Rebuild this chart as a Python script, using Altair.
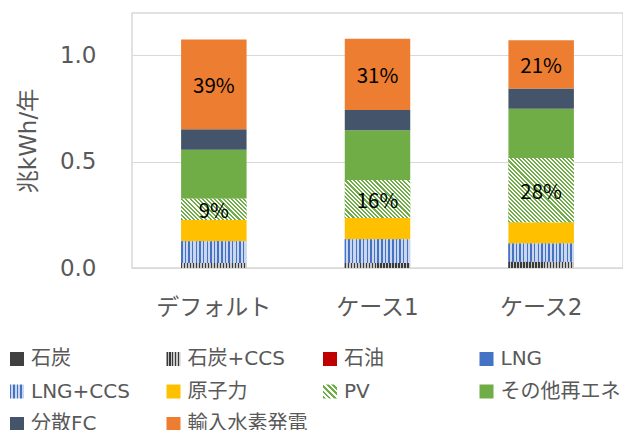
import math
import altair as alt
import pandas as pd

# ---------------- data ----------------
cases = ["デフォルト", "ケース1", "ケース2"]
series = ["石炭", "石炭+CCS", "石油", "LNG", "LNG+CCS", "原子力", "PV",
          "その他再エネ", "分散FC", "輸入水素発電"]
coal = [0.0, 0.0, 0.0]
coal_ccs = [0.023, 0.023, 0.029]
oil = [0.0, 0.0, 0.0]
lng = [0.0, 0.0, 0.0]
lng_ccs = [0.103, 0.112, 0.086]
nuclear = [0.100, 0.100, 0.100]
pv = [0.100, 0.179, 0.303]
other_re = [0.231, 0.234, 0.232]
dist_fc = [0.096, 0.096, 0.095]
h2_import = [0.422, 0.335, 0.227]
pv_labels = ["9%", "16%", "28%"]
h2_labels = ["39%", "31%", "21%"]
y_ticks = [0.0, 0.5, 1.0]

values_by_series = [coal, coal_ccs, oil, lng, lng_ccs, nuclear, pv,
                    other_re, dist_fc, h2_import]

# ---------------- styles ----------------
FONT = "DejaVu Sans, Noto Sans CJK JP"
LABEL_FONT = "Noto Sans CJK JP"
GREY_TXT = "#595959"
GRID = "#d9d9d9"
colors = ["#404040", "#808080", "#c00000", "#4472c4", "#8faadc",
          "#ffc000", "#c5e0b4", "#70ad47", "#44546a", "#ed7d31"]

PLOT_W, PLOT_H = 491, 255
Y_MAX = 1.2
BAR_W = PLOT_W / 3 * 0.4
PX_PER_UNIT = PLOT_H / Y_MAX
PV_PERIOD = 2.9


def stripe_stops(n, frac, c1, c2):
    stops = []
    for i in range(n):
        a, b, c = i / n, (i + frac) / n, (i + 1) / n
        stops += [(a, c1), (b, c1), (b, c2), (c, c2)]
    return stops


def vl_gradient(stops, x1, y1, x2, y2):
    return alt.LinearGradient(
        gradient="linear",
        stops=[alt.GradientStop(offset=o, color=c) for o, c in stops],
        x1=x1, y1=y1, x2=x2, y2=y2)


def js_gradient(stops, x1, y1, x2, y2):
    s = ",".join("{offset:%.4f,color:'%s'}" % (o, c) for o, c in stops)
    return "{gradient:'linear',x1:%s,y1:%s,x2:%s,y2:%s,stops:[%s]}" % (x1, y1, x2, y2, s)


def diag_coords(w, h):
    k = (w + h) / (w * w + h * h)
    return 0, 1, k * w, 1 - k * h


coal_ccs_stops = stripe_stops(22, 0.45, "#3a3a3a", "#c8c8c8")
lng_ccs_stops = stripe_stops(18, 0.4, "#4472c4", "#c9d6ee")

# legend swatches (range entries) for the hatched series
range_vals = []
for s, c in zip(series, colors):
    if s == "石炭+CCS":
        range_vals.append({"expr": js_gradient(stripe_stops(5, 0.45, "#3a3a3a", "#c8c8c8"), 0, 0, 1, 0)})
    elif s == "LNG+CCS":
        range_vals.append({"expr": js_gradient(stripe_stops(4, 0.4, "#4472c4", "#c9d6ee"), 0, 0, 1, 0)})
    elif s == "PV":
        range_vals.append({"expr": js_gradient(stripe_stops(5, 0.5, "#70ad47", "#ffffff"), 0, 1, 1, 0)})
    else:
        range_vals.append(c)

# ---------------- table ----------------
rows = []
for ci, case in enumerate(cases):
    cum = 0.0
    for si, s in enumerate(series):
        v = values_by_series[si][ci]
        rows.append({"case": case, "series": s, "start": cum, "end": cum + v,
                     "mid": cum + v / 2, "value": v})
        cum += v
df = pd.DataFrame(rows)

lab_rows = []
for ci, case in enumerate(cases):
    for s, labs in (("PV", pv_labels), ("輸入水素発電", h2_labels)):
        r = df[(df.case == case) & (df.series == s)].iloc[0]
        lab_rows.append({"case": case, "mid": r["mid"], "label": labs[ci]})
df_lab = pd.DataFrame(lab_rows)

# ---------------- encodings ----------------
x_enc = alt.X("case:N", sort=cases,
              scale=alt.Scale(paddingInner=0.6, paddingOuter=0.3),
              axis=alt.Axis(title=None, labelAngle=0, labelFont=FONT,
                            labelFontSize=23, labelColor=GREY_TXT,
                            labelPadding=28, ticks=False, tickSize=0,
                            domain=False, grid=False))


def y_enc(field):
    return alt.Y(field,
                 scale=alt.Scale(domain=[0, Y_MAX], nice=False, zero=True),
                 axis=alt.Axis(title="兆kWh/年", values=y_ticks, format=".1f",
                               labelFont=FONT, labelFontSize=23,
                               labelColor=GREY_TXT, labelPadding=36,
                               ticks=False, tickSize=0, domain=False,
                               grid=True, gridColor=GRID, gridWidth=1,
                               titleFont=FONT, titleFontSize=23,
                               titleFontWeight="normal", titleColor=GREY_TXT,
                               titleAngle=270, titleBaseline="middle",
                               titleX=-104, titleY=PLOT_H / 2))


base = alt.Chart(df).encode(x=x_enc, y=y_enc("start:Q"), y2="end:Q")

bars = base.mark_bar(strokeWidth=0).encode(
    color=alt.Color(
        "series:N",
        scale=alt.Scale(domain=series, range=range_vals),
        legend=alt.Legend(
            title=None, orient="none", legendX=-125, legendY=336,
            columns=4, direction="horizontal", gridAlign="all",
            symbolType="square", symbolSize=196, symbolStrokeWidth=0,
            symbolOpacity=1,
            labelFont=FONT, labelFontSize=20, labelColor=GREY_TXT,
            labelOffset=4, labelLimit=220, columnPadding=12.5, rowPadding=12.5,
            padding=0,
        ),
    ))

coal_ccs_layer = base.transform_filter(alt.datum.series == "石炭+CCS").mark_bar(
    fill=vl_gradient(coal_ccs_stops, 0, 0, 1, 0), strokeWidth=0)
lng_ccs_layer = base.transform_filter(alt.datum.series == "LNG+CCS").mark_bar(
    fill=vl_gradient(lng_ccs_stops, 0, 0, 1, 0), strokeWidth=0)

pv_layers = []
for ci, case in enumerate(cases):
    h = pv[ci] * PX_PER_UNIT
    n = max(1, round((BAR_W + h) / math.sqrt(2) / PV_PERIOD))
    x1, y1, x2, y2 = diag_coords(BAR_W, h)
    pv_layers.append(
        base.transform_filter((alt.datum.series == "PV") & (alt.datum.case == case))
        .mark_bar(fill=vl_gradient(stripe_stops(n, 0.5, "#70ad47", "#ffffff"),
                                   x1, y1, x2, y2), strokeWidth=0))

labels = alt.Chart(df_lab).mark_text(
    font=LABEL_FONT, fontSize=20.5, color="#000000", baseline="middle",
    align="center", dy=3
).encode(x=alt.X("case:N", sort=cases), y=y_enc("mid:Q"), text="label:N")

chart = alt.layer(bars, coal_ccs_layer, lng_ccs_layer, *pv_layers, labels).properties(
    width=PLOT_W, height=PLOT_H,
    autosize=alt.AutoSizeParams(type="none"),
    padding={"left": 124, "top": 5, "right": 0, "bottom": 162},
).configure_view(stroke=GRID, strokeWidth=1.5)

chart.save("out.html", embed_options={"renderer": "svg", "actions": False})
